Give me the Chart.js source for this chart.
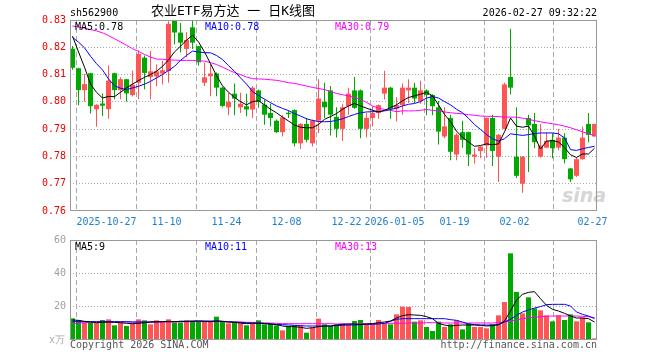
<!DOCTYPE html>
<html><head><meta charset="utf-8">
<script src="https://cdn.jsdelivr.net/npm/chart.js@4.4.1/dist/chart.umd.min.js"></script>
<style>
html,body{margin:0;padding:0;background:#fff;}
#wrap{position:relative;width:660px;height:360px;overflow:hidden;background:#fff;}
#wrap canvas{position:absolute;left:0;}
.t{position:absolute;font-family:'DejaVu Sans Mono',monospace;font-size:10px;line-height:12px;white-space:pre;}
</style></head>
<body>
<div id="wrap">
 <div class="t" style="left:562px;top:184px;font:italic bold 19px 'DejaVu Sans',sans-serif;color:#d6d6d6;line-height:22px">sina</div>
 <canvas id="kc" width="660" height="232" style="top:0px;width:660px;height:232px"></canvas>
 <canvas id="vc" width="660" height="130" style="top:230px;width:660px;height:130px"></canvas>
 <div class="t" style="left:70px;top:7px;color:#000">sh562900</div>
 <div class="t" style="left:151px;top:2px;font-size:13px;line-height:17px;font-family:'DejaVu Sans Mono','Noto Sans CJK SC',monospace;color:#000">农业ETF易方达 一 日K线图</div>
 <div class="t" style="right:63px;top:7px;color:#000">2026-02-27 09:32:22</div>
 <div class="t" style="left:75px;top:21px;color:#000">MA5:0.78</div>
 <div class="t" style="left:205px;top:21px;color:#0000ff">MA10:0.78</div>
 <div class="t" style="left:335px;top:21px;color:#ff00ff">MA30:0.79</div>
 <div class="t" style="left:75px;top:241px;color:#000">MA5:9</div>
 <div class="t" style="left:205px;top:241px;color:#0000ff">MA10:11</div>
 <div class="t" style="left:335px;top:241px;color:#ff00ff">MA30:13</div>
 <div class="t" style="left:49px;top:334px;color:#aaa">x万</div>
 <div class="t" style="left:70px;top:339px;color:#555">Copyright 2026 SINA.COM</div>
 <div class="t" style="right:63px;top:339px;color:#555">http://finance.sina.com.cn</div>
</div>
<script>
// ---- data ----
const tickIndex  = [6, 16, 26, 36, 46, 54, 64, 74, 87];
const tickLabels = ['2025-10-27','11-10','11-24','12-08','12-22','2026-01-05','01-19','02-02','02-27'];
const priceTicks = [0.76, 0.77, 0.78, 0.79, 0.80, 0.81, 0.82, 0.83];
const volTicks   = [0, 20, 40, 60];

const opens = [
 0.8195,0.8123,0.8043,0.8105,0.7973,0.7994,0.7973,0.8105,0.8043,0.8083,
 0.8025,0.8070,0.8162,0.8091,0.8093,0.8104,0.8113,0.8297,0.8254,0.8194,
 0.8273,0.8204,0.8070,0.8094,0.8104,0.8052,0.7980,0.8030,0.7980,0.7984,
 0.7972,0.8042,0.7990,0.7959,0.7931,0.7889,0.7960,0.7970,0.7848,0.7919,
 0.7848,0.7931,0.8000,0.8042,0.7945,0.7901,0.7984,0.8042,0.8042,0.7901,
 0.7941,0.7959,0.8030,0.8052,0.7975,0.7988,0.8042,0.8052,0.8003,0.8042,
 0.8025,0.7980,0.7873,0.7941,0.7807,0.7889,0.7889,0.7799,0.7820,0.7840,
 0.7941,0.7799,0.7901,0.8091,0.7799,0.7700,0.7941,0.7919,0.7799,0.7832,
 0.7861,0.7832,0.7869,0.7756,0.7729,0.7790,0.7919,0.7873];
const closes = [
 0.8125,0.8043,0.8065,0.7984,0.7989,0.7986,0.8078,0.8043,0.8083,0.8031,
 0.8063,0.8176,0.8106,0.8112,0.8112,0.8116,0.8286,0.8254,0.8217,0.8227,
 0.8217,0.8145,0.8090,0.8104,0.8052,0.7985,0.8000,0.8012,0.7993,0.7972,
 0.8052,0.8000,0.7953,0.7941,0.7889,0.7943,0.7955,0.7848,0.7919,0.7861,
 0.7931,0.8012,0.7980,0.7953,0.7901,0.7980,0.8030,0.7978,0.7901,0.7941,
 0.7959,0.7988,0.8052,0.7975,0.7988,0.8052,0.8052,0.8012,0.8042,0.8025,
 0.7984,0.7891,0.7910,0.7817,0.7879,0.7861,0.7807,0.7807,0.7836,0.7941,
 0.7820,0.7879,0.8064,0.8052,0.7729,0.7799,0.7914,0.7852,0.7840,0.7857,
 0.7830,0.7869,0.7790,0.7716,0.7790,0.7869,0.7879,0.7919];
const highs = [
 0.8205,0.8125,0.8102,0.8107,0.7991,0.8031,0.8133,0.8107,0.8090,0.8085,
 0.8115,0.8189,0.8170,0.8186,0.8137,0.8151,0.8295,0.8300,0.8289,0.8256,
 0.8303,0.8205,0.8144,0.8138,0.8108,0.8055,0.8033,0.8067,0.8033,0.8030,
 0.8057,0.8045,0.8009,0.7993,0.7935,0.7951,0.7968,0.7972,0.7922,0.7941,
 0.7935,0.8083,0.8070,0.8058,0.7980,0.7993,0.8052,0.8091,0.8045,0.7959,
 0.7984,0.7990,0.8114,0.8055,0.8017,0.8067,0.8083,0.8070,0.8077,0.8045,
 0.8028,0.8003,0.7980,0.7953,0.7885,0.7931,0.7890,0.7830,0.7838,0.7943,
 0.7953,0.7882,0.8070,0.8268,0.7980,0.7802,0.7953,0.7959,0.7919,0.7889,
 0.7885,0.7901,0.7885,0.7758,0.7795,0.7910,0.7959,0.7920];
const lows = [
 0.8118,0.7988,0.8000,0.7957,0.7909,0.7948,0.7938,0.8010,0.8010,0.8000,
 0.8020,0.8010,0.8046,0.8009,0.8057,0.8064,0.8070,0.8211,0.8181,0.8163,
 0.8194,0.8132,0.8058,0.8021,0.8021,0.7980,0.7951,0.7951,0.7959,0.7947,
 0.7941,0.7978,0.7916,0.7910,0.7886,0.7873,0.7941,0.7836,0.7827,0.7852,
 0.7836,0.7885,0.7941,0.7877,0.7869,0.7857,0.7953,0.7975,0.7867,0.7869,
 0.7910,0.7938,0.8009,0.7938,0.7928,0.7953,0.7996,0.7996,0.7993,0.7951,
 0.7951,0.7844,0.7867,0.7786,0.7786,0.7832,0.7765,0.7774,0.7793,0.7795,
 0.7765,0.7706,0.7900,0.8027,0.7721,0.7667,0.7743,0.7830,0.7795,0.7830,
 0.7793,0.7823,0.7774,0.7706,0.7725,0.7788,0.7852,0.7872];
const ma5 = [
 0.8241,0.8183,0.8127,0.8065,0.8035,0.8014,0.8020,0.8019,0.8035,0.8051,
 0.8065,0.8078,0.8090,0.8100,0.8112,0.8130,0.8154,0.8183,0.8204,0.8226,
 0.8244,0.8220,0.8183,0.8140,0.8096,0.8059,0.8035,0.8016,0.8001,0.7989,
 0.8001,0.8004,0.7989,0.7973,0.7960,0.7944,0.7930,0.7915,0.7907,0.7905,
 0.7905,0.7917,0.7936,0.7946,0.7957,0.7973,0.7985,0.7994,0.7985,0.7977,
 0.7969,0.7963,0.7969,0.7979,0.7989,0.8004,0.8016,0.8022,0.8028,0.8035,
 0.8022,0.7989,0.7954,0.7927,0.7893,0.7870,0.7853,0.7837,0.7840,0.7846,
 0.7843,0.7846,0.7890,0.7941,0.7911,0.7907,0.7911,0.7875,0.7827,0.7856,
 0.7858,0.7853,0.7833,0.7806,0.7796,0.7809,0.7809,0.7830];
const ma10 = [
 0.8236,0.8219,0.8198,0.8167,0.8140,0.8117,0.8084,0.8059,0.8050,0.8045,
 0.8051,0.8057,0.8065,0.8075,0.8088,0.8100,0.8115,0.8130,0.8152,0.8170,
 0.8186,0.8183,0.8180,0.8180,0.8170,0.8155,0.8133,0.8112,0.8088,0.8065,
 0.8038,0.8023,0.8010,0.7997,0.7985,0.7976,0.7968,0.7957,0.7948,0.7938,
 0.7932,0.7928,0.7927,0.7928,0.7932,0.7938,0.7946,0.7954,0.7960,0.7963,
 0.7964,0.7964,0.7967,0.7972,0.7977,0.7985,0.7991,0.7994,0.8001,0.8014,
 0.8019,0.8014,0.8001,0.7989,0.7973,0.7960,0.7940,0.7917,0.7899,0.7880,
 0.7865,0.7856,0.7865,0.7883,0.7880,0.7877,0.7880,0.7884,0.7886,0.7886,
 0.7886,0.7883,0.7868,0.7825,0.7822,0.7828,0.7833,0.7837];
const ma30 = [
 0.8278,0.8274,0.8270,0.8265,0.8260,0.8253,0.8243,0.8231,0.8220,0.8207,
 0.8195,0.8185,0.8174,0.8164,0.8157,0.8156,0.8154,0.8153,0.8152,0.8152,
 0.8152,0.8151,0.8149,0.8144,0.8137,0.8127,0.8117,0.8107,0.8100,0.8091,
 0.8085,0.8084,0.8083,0.8081,0.8079,0.8075,0.8070,0.8068,0.8063,0.8058,
 0.8053,0.8049,0.8045,0.8038,0.8031,0.8026,0.8022,0.8016,0.8009,0.7998,
 0.7985,0.7977,0.7972,0.7969,0.7964,0.7967,0.7967,0.7967,0.7969,0.7972,
 0.7969,0.7967,0.7963,0.7960,0.7958,0.7956,0.7953,0.7951,0.7948,0.7947,
 0.7947,0.7946,0.7944,0.7944,0.7944,0.7940,0.7936,0.7931,0.7927,0.7923,
 0.7920,0.7916,0.7911,0.7905,0.7898,0.7890,0.7883,0.7877];
const volume = [
 13,12,10.4,10.4,10.4,12,12.4,8.8,10.4,8.4,
 9.8,12.4,11.8,9.4,11.8,11,12.4,10.4,10.4,11.8,
 11.4,11,11,11,14,11.2,10,10.8,10.4,8.8,
 10.4,11.8,9.4,9.8,8.8,5.8,8.4,8.8,8.8,4.4,
 7.4,12.8,9.4,8.4,9.4,10,9.4,11.4,12,9.4,
 9.4,12,9.8,9.4,15.4,20,19.8,11,11.8,7.8,
 5.4,11,7.8,9.4,11.8,6.4,10,7.8,7.8,7,
 9.4,14.8,22.8,52,28.8,16,25.6,19,17.8,14.8,
 11.2,14.8,12,15.4,11.2,13.4,10.6,1];
const volMa5 = [
 12,11.8,11.2,10.8,10.4,10.6,10.8,10.6,10.4,10,
 9.8,10,10.4,10.8,11,11,11.2,11,11.2,11.2,
 11.4,11.4,11.2,11,11.4,11.2,10.8,10.6,10.2,9.8,
 10,10.2,10,9.6,9.2,8.4,8,8,7.6,7,
 7.4,8,8.4,8.4,9,9.4,9.6,9.6,9.4,9.6,
 9.8,10.4,10.8,11.4,13.2,14.6,15.2,15,14.8,14,
 12.8,10,9,8.4,8.8,9,9,9,8.8,8.4,
 8.6,9.2,11.4,17.4,24,27.4,28.6,29,24.8,20.8,
 18.4,17.4,16,14.4,13.2,13.2,12.8,10.8];
const volMa10 = [
 11,11,11,11,11,11,11,11,11,11,
 10.8,10.8,10.8,10.8,10.8,11,11,11,11.2,11.2,
 11.2,11.4,11.4,11.4,11.4,11.2,11,10.8,10.6,10.4,
 10.2,10,9.8,9.6,9.4,9.2,9,8.8,8.6,8.4,
 8.4,8.4,8.4,8.4,8.6,8.8,9,9,9.2,9.4,
 9.4,9.6,10,11.2,12.4,12.8,12.8,12.8,12.8,12.8,
 12.8,12.8,12.8,12.2,11.8,10.8,9.6,9.2,9,9,
 9,9.2,10.8,12.4,14.8,16.8,18,19.2,20,21.2,
 21.4,21.4,21.4,20.4,16.8,15.4,14.4,12.8];
const volMa30 = [
 9.8,10,10.4,10.6,10.8,10.8,10.8,10.8,10.8,10.8,
 10.8,10.8,10.8,10.8,10.8,10.8,10.8,10.8,10.8,11,
 11,11,11,11,11,11,10.8,10.8,10.8,10.6,
 10.6,10.4,10.2,10.2,10,9.8,9.8,9.8,9.8,9.8,
 9.8,9.8,9.8,9.8,9.6,9.6,9.6,9.6,9.8,9.8,
 9.8,10,10,10,10,10,10.2,10.2,10.2,10.4,
 10.4,10.4,10.2,10.2,10.2,10.2,10.2,10.2,10.2,10.2,
 10.2,10.4,10.8,11.4,12,12.8,13.4,13.6,14,14.2,
 14.4,14.4,14.4,14.4,14.4,14.2,14,13.4];

// ---- styling ----
const RED = '#ff5555', GREEN = '#00a800';
const GRID = '#a8a8a8', FRAME = '#999999';
Chart.defaults.font.family = "'DejaVu Sans Mono', monospace";
Chart.defaults.font.size = 10;

const idx = closes.map((_, i) => i);
const candleColors = idx.map(i => closes[i] >= opens[i] ? RED : GREEN);
const X_MIN = -2.5 / 6, X_MAX = X_MIN + 527 / 6;

const frame = {
  id: 'frame',
  afterDatasetsDraw(c) {
    const a = c.chartArea, ctx = c.ctx;
    ctx.save();
    ctx.strokeStyle = FRAME; ctx.lineWidth = 1;
    ctx.strokeRect(Math.round(a.left) + 0.5, Math.round(a.top) + 0.5,
                   Math.round(a.right - a.left) - 1, Math.round(a.bottom - a.top) - 1);
    ctx.restore();
  }
};

function xScale(showLabels, height) {
  return {
    type: 'linear', min: X_MIN, max: X_MAX, offset: false,
    afterBuildTicks: s => { s.ticks = tickIndex.map(k => ({ value: k - 1 / 3 })); },
    afterFit: s => { s.height = height; },
    ticks: {
      display: showLabels, autoSkip: false, maxRotation: 0, padding: 5, color: '#1f7fd0',
      callback: (v, i) => tickLabels[i]
    },
    grid: { color: GRID, lineWidth: 1, drawTicks: false },
    border: { display: false, dash: [5, 3] }
  };
}
function lineDs(data, color, order) {
  return { type: 'line', data: idx.map(i => ({ x: i, y: data[i] })), borderColor: color,
           borderWidth: 1, pointRadius: 0, tension: 0, order: order };
}

new Chart(document.getElementById('kc'), {
  type: 'bar',
  data: { datasets: [
    lineDs(ma5, '#000000', 1),
    lineDs(ma10, '#0000ff', 2),
    lineDs(ma30, '#ff00ff', 3),
    { type: 'bar', data: idx.map(i => ({ x: i, y: [opens[i], closes[i]] })), backgroundColor: candleColors,
      barThickness: 5, grouped: false, minBarLength: 1, inflateAmount: 0, order: 4 },
    { type: 'bar', data: idx.map(i => ({ x: i, y: [lows[i], highs[i]] })), backgroundColor: candleColors,
      barThickness: 1, grouped: false, inflateAmount: 0, order: 5 }
  ] },
  options: {
    responsive: false, animation: false, events: [],
    layout: { padding: { left: 0, right: 63, top: 20, bottom: 0 } },
    plugins: { legend: { display: false }, tooltip: { enabled: false } },
    scales: {
      x: xScale(true, 21),
      y: {
        type: 'linear', min: 0.76, max: 0.83,
        afterBuildTicks: s => { s.ticks = priceTicks.map(v => ({ value: v })); },
        afterFit: s => { s.width = 70; },
        ticks: { color: '#ee0000', padding: 4, callback: v => v.toFixed(2) },
        grid: { drawTicks: false, lineWidth: 1,
                color: c => (c.tick && (Math.abs(c.tick.value - 0.76) < 1e-6 || Math.abs(c.tick.value - 0.83) < 1e-6)) ? 'rgba(0,0,0,0)' : GRID },
        border: { display: false, dash: [1, 2] }
      }
    }
  },
  plugins: [frame]
});

new Chart(document.getElementById('vc'), {
  type: 'bar',
  data: { datasets: [
    lineDs(volMa5, '#000000', 1),
    lineDs(volMa10, '#0000ff', 2),
    lineDs(volMa30, '#ff00ff', 3),
    { type: 'bar', data: idx.map(i => ({ x: i, y: volume[i] })), backgroundColor: candleColors,
      barThickness: 5, grouped: false, inflateAmount: 0, order: 4 }
  ] },
  options: {
    responsive: false, animation: false, events: [],
    layout: { padding: { left: 0, right: 63, top: 10, bottom: 0 } },
    plugins: { legend: { display: false }, tooltip: { enabled: false } },
    scales: {
      x: xScale(false, 20),
      y: {
        type: 'linear', min: 0, max: 60,
        afterBuildTicks: s => { s.ticks = volTicks.map(v => ({ value: v })); },
        afterFit: s => { s.width = 70; },
        ticks: { color: '#a0a0a0', padding: 4, callback: v => v === 0 ? '' : String(v) },
        grid: { drawTicks: false, lineWidth: 1,
                color: c => (c.tick && (c.tick.value === 0 || c.tick.value === 60)) ? 'rgba(0,0,0,0)' : GRID },
        border: { display: false, dash: [1, 2] }
      }
    }
  },
  plugins: [frame]
});
</script>
</body></html>
